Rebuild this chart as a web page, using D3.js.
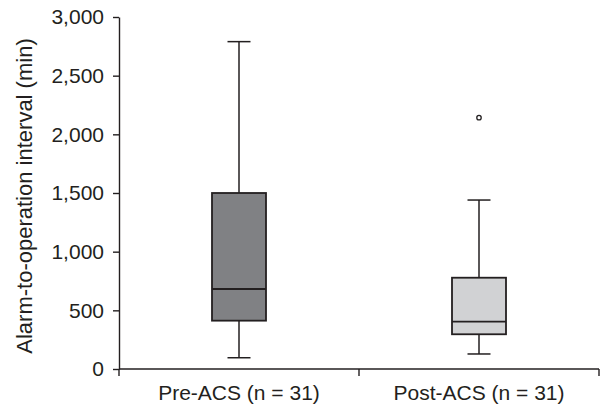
<!DOCTYPE html>
<html><head><meta charset="utf-8">
<script src="https://cdn.jsdelivr.net/npm/d3@7"></script>
<style>
html,body{margin:0;padding:0;background:#fff;}
svg text{font-family:"Liberation Sans",Arial,sans-serif;fill:#231f20;}
</style></head>
<body><svg id="c" width="600" height="406"></svg>
<script>
const categories = ["Pre-ACS (n = 31)", "Post-ACS (n = 31)"];
const whiskerLow = [96, 128];
const q1 = [412, 296];
const median = [682, 403];
const q3 = [1500, 778];
const whiskerHigh = [2790, 1440];
const outliers = [[], [2142]];
const yTicks = [0, 500, 1000, 1500, 2000, 2500, 3000];
const fills = ["#808184", "#d1d2d4"];
const ink = "#231f20";

const svg = d3.select("#c");
const m = {left:119, right:1, top:17, bottom:37};
const W = 600, H = 406;
const x = d3.scaleBand().domain(categories).range([m.left, W - m.right]);
const y = d3.scaleLinear().domain([0, 3000]).range([H - m.bottom, m.top]);

const boxW = 54, capW = 23;

// y axis
const ya = svg.append("g").attr("transform", `translate(${m.left},0)`)
  .call(d3.axisLeft(y).tickValues(yTicks).tickFormat(d3.format(",")).tickSize(6).tickPadding(9).tickSizeOuter(0));
ya.select(".domain").attr("stroke", ink).attr("stroke-width", 1.4);
ya.selectAll(".tick line").attr("stroke", ink).attr("stroke-width", 1.4);
ya.selectAll(".tick text").attr("font-size", 21).attr("fill", ink).attr("font-family", '"Liberation Sans",Arial,sans-serif');

// x axis: line with ticks at band boundaries, labels at centers
const xg = svg.append("g").attr("transform", `translate(0,${y(0)})`);
const xr = x.range();
xg.append("line").attr("x1", xr[0]).attr("x2", xr[1]).attr("y1", 0).attr("y2", 0)
  .attr("stroke", ink).attr("stroke-width", 1.4);
const bounds = categories.map(c => x(c)).concat([x(categories[categories.length-1]) + x.bandwidth()]);
xg.selectAll("line.tk").data(bounds).join("line").attr("class","tk")
  .attr("x1", d => d).attr("x2", d => d).attr("y1", 0).attr("y2", 7)
  .attr("stroke", ink).attr("stroke-width", 1.4);
xg.selectAll("text").data(categories).join("text")
  .attr("x", d => x(d) + x.bandwidth()/2).attr("y", 16).attr("dy", "0.71em")
  .attr("text-anchor", "middle").attr("font-size", 21).text(d => d);

// y title
svg.append("text").attr("transform", `translate(32,${(y(0)+y(3000))/2 + 3}) rotate(-90)`)
  .attr("text-anchor", "middle").attr("font-size", 22).text("Alarm-to-operation interval (min)");

// boxes
const g = svg.append("g");
categories.forEach((c, i) => {
  const cx = x(c) + x.bandwidth()/2;
  // whiskers
  g.append("line").attr("x1", cx).attr("x2", cx).attr("y1", y(whiskerHigh[i])).attr("y2", y(q3[i]))
    .attr("stroke", ink).attr("stroke-width", 1.5);
  g.append("line").attr("x1", cx).attr("x2", cx).attr("y1", y(q1[i])).attr("y2", y(whiskerLow[i]))
    .attr("stroke", ink).attr("stroke-width", 1.5);
  [whiskerHigh[i], whiskerLow[i]].forEach(v => {
    g.append("line").attr("x1", cx - capW/2).attr("x2", cx + capW/2).attr("y1", y(v)).attr("y2", y(v))
      .attr("stroke", ink).attr("stroke-width", 1.5);
  });
  g.append("rect").attr("x", cx - boxW/2).attr("y", y(q3[i])).attr("width", boxW)
    .attr("height", y(q1[i]) - y(q3[i])).attr("fill", fills[i]).attr("stroke", ink).attr("stroke-width", 1.8);
  g.append("line").attr("x1", cx - boxW/2).attr("x2", cx + boxW/2).attr("y1", y(median[i])).attr("y2", y(median[i]))
    .attr("stroke", ink).attr("stroke-width", 1.8);
  outliers[i].forEach(v => {
    g.append("circle").attr("cx", cx).attr("cy", y(v)).attr("r", 2.2)
      .attr("fill", "#fff").attr("stroke", ink).attr("stroke-width", 1.3);
  });
});
</script></body></html>
